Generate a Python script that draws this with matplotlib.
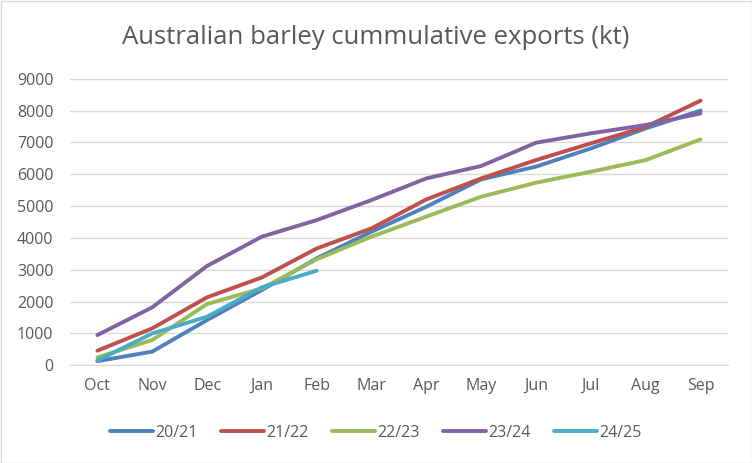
import numpy as np
import matplotlib.pyplot as plt

plt.rcParams['font.family'] = ['Open Sans', 'DejaVu Sans']

months = ['Oct', 'Nov', 'Dec', 'Jan', 'Feb', 'Mar', 'Apr', 'May', 'Jun', 'Jul', 'Aug', 'Sep']

# cumulative exports, kt
s2021 = [130, 430, 1420, 2365, 3360, 4195, 4980, 5840, 6240, 6810, 7440, 8000]
s2122 = [460, 1160, 2135, 2760, 3670, 4300, 5210, 5870, 6445, 6970, 7490, 8310]
s2223 = [250, 795, 1925, 2415, 3330, 4040, 4670, 5295, 5735, 6080, 6445, 7095]
s2324 = [950, 1820, 3120, 4040, 4560, 5190, 5870, 6260, 6990, 7285, 7545, 7910]
s2425 = [150, 1000, 1525, 2450, 2970]

series = [('20/21', s2021, '#4F81BD'),
          ('21/22', s2122, '#C0504D'),
          ('22/23', s2223, '#9BBB59'),
          ('23/24', s2324, '#8064A2'),
          ('24/25', s2425, '#4BACC6')]

fig = plt.figure(figsize=(7.52, 4.63), dpi=100)
ax = fig.add_axes([70/752, 97.7/463, 658/752, 286.6/463])

x = np.arange(len(months))
for name, vals, col in series:
    ax.plot(x[:len(vals)], vals, color=col, lw=2.8, label=name, solid_capstyle='round')

ax.set_xlim(-0.5, 11.5)
ax.set_ylim(0, 9000)
ax.set_yticks(range(0, 9001, 1000))
ax.set_xticks(x)
ax.set_xticklabels(months)
ax.grid(axis='y', color='#D9D9D9', lw=1)
ax.set_axisbelow(True)
for s in ['top', 'right', 'left']:
    ax.spines[s].set_visible(False)
ax.spines['bottom'].set_color('#D9D9D9')
ax.tick_params(length=0, labelsize=11.5, colors='#595959')
ax.tick_params(axis='y', pad=12)
ax.tick_params(axis='x', pad=9)

fig.text(0.5, 1 - 38/463, 'Australian barley cummulative exports (kt)', ha='center', va='center',
         fontsize=18.5, color='#595959')
fig.legend(loc='center', bbox_to_anchor=(0.5, 1 - 433/463), ncol=5, frameon=False,
           fontsize=11.5, labelcolor='#595959', handlelength=2.7, handletextpad=0.15,
           columnspacing=1.45)

border = plt.Rectangle((0.5/752, 0.5/463), 751/752, 462/463, transform=fig.transFigure,
                       fill=False, edgecolor='#D9D9D9', lw=1)
fig.patches.append(border)

fig.savefig('out.png', dpi=100)
